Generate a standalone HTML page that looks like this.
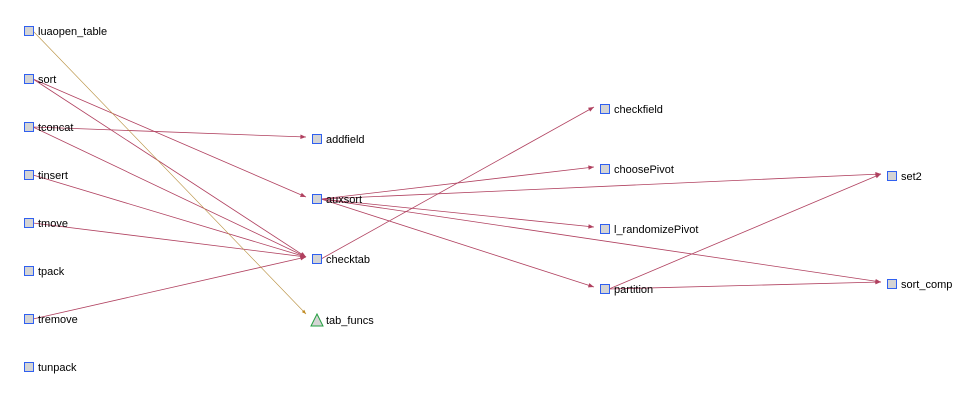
<!DOCTYPE html>
<html><head><meta charset="utf-8"><style>
body{margin:0;background:#fff;width:979px;height:400px;overflow:hidden}
svg{display:block}
text{font-family:"Liberation Sans",sans-serif;font-size:11px;fill:#000}
</style></head><body>
<svg id="g" width="979" height="400">
<defs>
<marker id="ar" viewBox="0 0 10 10" refX="10" refY="5" markerWidth="8" markerHeight="7" orient="auto"><path d="M0,1 L10,5 L0,9 z" fill="#b0405f"/></marker>
<marker id="ao" viewBox="0 0 10 10" refX="10" refY="5" markerWidth="8" markerHeight="7" orient="auto"><path d="M0,1 L10,5 L0,9 z" fill="#c08a20"/></marker>
</defs>
</svg>
<script>
const nodeNames=["luaopen_table","sort","tconcat","tinsert","tmove","tpack","tremove","tunpack","addfield","auxsort","checktab","tab_funcs","checkfield","choosePivot","l_randomizePivot","partition","set2","sort_comp"];
const nodeX=[29,29,29,29,29,29,29,29,317,317,317,317,605,605,605,605,892,892];
const nodeY=[31,79,127,175,223,271,319,367,139,199,259,320,109,169,229,289,176,284];
const edgeFrom=["sort","sort","tconcat","tconcat","tinsert","tmove","tremove","luaopen_table","checktab","auxsort","auxsort","auxsort","auxsort","auxsort","partition","partition"];
const edgeTo=["auxsort","checktab","addfield","checktab","checktab","checktab","checktab","tab_funcs","checkfield","choosePivot","set2","l_randomizePivot","sort_comp","partition","set2","sort_comp"];
const svg=document.getElementById('g');
const NS='http://www.w3.org/2000/svg';
const idx=n=>nodeNames.indexOf(n);
for(let i=0;i<edgeFrom.length;i++){
  const a=idx(edgeFrom[i]),b=idx(edgeTo[i]);
  const l=document.createElementNS(NS,'line');
  const orange=edgeTo[i]==='tab_funcs';
  l.setAttribute('x1',nodeX[a]+4);l.setAttribute('y1',nodeY[a]);
  l.setAttribute('x2',nodeX[b]-11);l.setAttribute('y2',nodeY[b]-(orange?6:2));
  l.setAttribute('stroke',orange?'#b89040':'#b0405f');
  l.setAttribute('stroke-width',orange?'0.6':'0.8');
  l.setAttribute('marker-end',orange?'url(#ao)':'url(#ar)');
  
  
  svg.appendChild(l);
}
for(let i=0;i<nodeNames.length;i++){
  const g=document.createElementNS(NS,'g');
  
  
  let s;
  if(nodeNames[i]==='tab_funcs'){
    s=document.createElementNS(NS,'polygon');
    const x=nodeX[i],y=nodeY[i];
    s.setAttribute('points',`${x-6},${y+6} ${x+6},${y+6} ${x},${y-6}`);
    s.setAttribute('fill','#d4d4d4');s.setAttribute('stroke','#22a040');
  }else{
    s=document.createElementNS(NS,'rect');
    s.setAttribute('x',nodeX[i]-4.5);s.setAttribute('y',nodeY[i]-4.5);
    s.setAttribute('width',9);s.setAttribute('height',9);
    s.setAttribute('fill','#d4d4d4');s.setAttribute('stroke','#3060f0');
  }
  g.appendChild(s);
  const t=document.createElementNS(NS,'text');
  t.setAttribute('x',nodeX[i]+9);t.setAttribute('y',nodeY[i]+4);
  t.textContent=nodeNames[i];
  g.appendChild(t);
  svg.appendChild(g);
}
</script>
</body></html>
